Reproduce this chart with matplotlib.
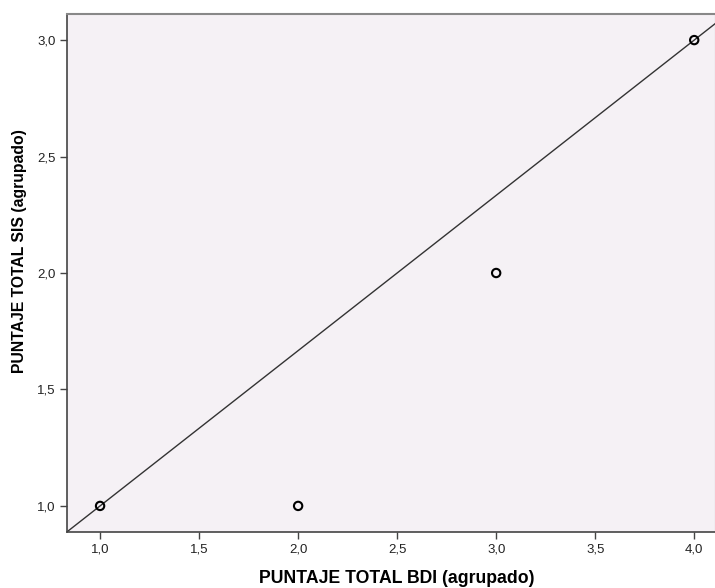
import matplotlib
matplotlib.use("Agg")
import matplotlib.pyplot as plt
from matplotlib.ticker import FuncFormatter
import numpy as np

plt.rcParams['font.family'] = ['Liberation Sans', 'DejaVu Sans']

# datos
bdi = [1.0, 2.0, 3.0, 4.0]
sis = [1.0, 1.0, 2.0, 3.0]
# recta de ajuste
intercepto = 1/3
pendiente = 2/3

xticks = [1.0, 1.5, 2.0, 2.5, 3.0, 3.5, 4.0]
yticks = [1.0, 1.5, 2.0, 2.5, 3.0]

fig = plt.figure(figsize=(7.15, 5.88), dpi=100)
ax = fig.add_axes([67/715, 1 - 532/588, 649/715, 518/588])
ax.set_facecolor('#F5F1F5')

xlim = (0.833, 4.11)
ylim = (0.888, 3.112)
ax.set_xlim(*xlim)
ax.set_ylim(*ylim)

xs = np.array(xlim)
ax.plot(xs, intercepto + pendiente * xs, color='#333333', lw=1.0, zorder=2)
ax.scatter(bdi, sis, s=36, facecolors='none', edgecolors='black', linewidths=1.5, zorder=3)

ax.set_xticks(xticks)
ax.set_yticks(yticks)
fmt = FuncFormatter(lambda v, p: f"{v:.1f}".replace('.', ','))
ax.xaxis.set_major_formatter(fmt)
ax.yaxis.set_major_formatter(fmt)
ax.tick_params(direction='out', length=5, width=1, colors='#444444', labelcolor='#222222',
               labelsize=9.5, pad=3)

for s in ['left', 'bottom']:
    ax.spines[s].set_color('#444444')
    ax.spines[s].set_linewidth(1.2)
for s in ['top', 'right']:
    ax.spines[s].set_color('#888888')
    ax.spines[s].set_linewidth(1.5)

ax.set_xlabel('PUNTAJE TOTAL BDI (agrupado)', fontsize=12.7, fontweight='bold')
ax.set_ylabel('PUNTAJE TOTAL SIS (agrupado)', fontsize=11.3, fontweight='bold')
ax.xaxis.set_label_coords(0.508, -0.074)
ax.yaxis.set_label_coords(-0.061, 0.542)

fig.savefig('out.png', dpi=100)
